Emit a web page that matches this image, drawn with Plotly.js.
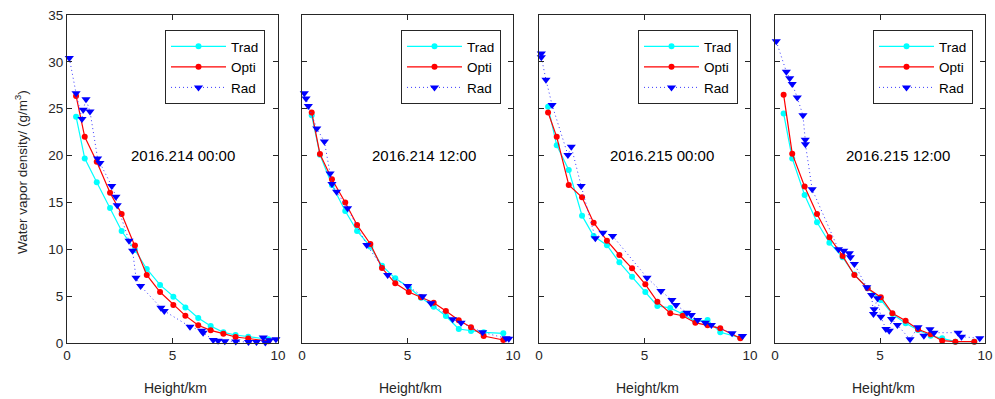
<!DOCTYPE html>
<html>
<head>
<meta charset="utf-8">
<script src="https://cdn.plot.ly/plotly-3.0.1.min.js"></script>
<style>html,body{margin:0;padding:0;background:#fff}#chart{width:995px;height:399px}</style>
</head>
<body>
<div id="chart"></div>
<script>
// ---- data (height in km, water vapor density in g/m^3) ----
var panelTitles = ["2016.214 00:00", "2016.214 12:00", "2016.215 00:00", "2016.215 12:00"];
var seriesNames = ["Trad", "Opti", "Rad"];
var xTickVals = [0, 5, 10];
var yTickVals = [0, 5, 10, 15, 20, 25, 30, 35];

// Panel 1
var h1 = [0.43,0.84,1.41,2.04,2.59,3.22,3.78,4.41,5.04,5.61,6.22,6.81,7.41,7.99,8.59,9.54];
var trad1 = [24.15,19.7,17.15,14.4,11.95,9.93,7.9,6.2,4.94,3.8,2.67,1.81,1.14,0.85,0.68,0.4];
var opti1 = [26.36,22.0,19.35,16.04,13.77,10.4,7.26,5.44,4.06,2.92,1.89,1.35,1.0,0.64,0.48,0.2];
var radH1 = [0.11,0.43,0.71,0.77,0.9,1.09,1.45,1.56,2.12,2.32,2.38,2.94,3.11,3.27,3.49,4.45,4.61,5.83,6.38,6.45,6.93,7.16,7.48,8.0,8.6,8.98,9.3,9.4,9.6,9.9];
var rad1 = [30.4,26.65,23.9,24.9,26.0,24.7,19.7,19.2,16.75,15.6,14.7,10.9,9.85,6.97,6.08,3.77,3.42,1.74,1.31,1.1,0.32,0.25,0.2,0.15,0.1,0.1,0.6,0.05,0.3,0.4];

// Panel 2
var h2 = [0.46,0.85,1.42,2.05,2.61,3.24,3.79,4.42,5.06,5.64,6.24,6.82,7.43,8.01,8.61,9.54];
var trad2 = [24.3,20.1,16.86,14.09,11.95,10.28,8.25,6.9,5.94,4.84,3.88,2.88,1.49,1.28,1.14,1.03];
var opti2 = [24.6,20.17,17.47,15.0,12.6,10.57,8.0,6.37,5.44,4.87,4.3,3.41,2.42,1.68,0.75,0.32];
var radH2 = [0.11,0.19,0.3,0.7,1.06,1.33,1.42,1.64,2.16,3.07,4.06,5.01,5.72,6.11,7.14,7.54,8.56,9.67,9.8];
var rad2 = [26.65,26.1,25.3,22.9,21.5,18.1,16.97,16.15,14.37,10.46,7.26,6.08,5.0,4.23,2.53,2.17,1.14,0.5,0.45];

// Panel 3
var h3 = [0.43,0.84,1.41,2.04,2.59,3.22,3.81,4.41,5.04,5.61,6.22,6.81,7.41,7.99,8.59,9.54];
var trad3 = [25.2,21.1,18.46,13.59,11.42,10.43,8.61,7.08,5.44,3.95,3.74,3.09,2.28,2.45,1.14,0.57];
var opti3 = [24.6,22.0,16.86,15.55,12.84,10.92,9.39,7.97,6.26,4.41,3.17,2.91,2.17,1.89,1.57,0.5];
var radH3 = [0.11,0.11,0.33,0.62,1.37,1.53,2.0,2.67,3.03,3.49,5.12,5.78,6.3,6.49,7.01,7.22,7.52,7.88,8.17,9.15,9.65];
var rad3 = [30.9,30.5,28.1,25.4,20.06,20.95,16.75,11.17,11.77,11.42,6.97,5.55,4.59,4.06,3.24,2.99,2.45,2.17,1.92,1.03,0.75];

// Panel 4
var h4 = [0.41,0.82,1.41,2.0,2.59,3.22,3.78,4.41,5.04,5.59,6.22,6.81,7.41,7.96,8.59,9.49];
var trad4 = [24.5,19.7,15.8,12.88,10.7,9.15,7.3,5.84,4.59,3.1,2.1,1.39,0.78,0.5,0.14,0.14];
var opti4 = [26.5,20.2,16.7,13.77,11.28,9.29,7.26,5.84,4.88,3.17,2.38,1.46,0.93,0.25,0.14,0.14];
var radH4 = [0.06,0.54,0.7,0.82,1.06,1.33,1.44,1.45,1.77,3.02,3.27,3.54,3.59,3.78,4.37,4.6,4.69,4.72,4.88,5.04,5.28,5.44,5.55,5.83,6.43,6.81,7.09,7.38,7.57,8.72,8.88,9.75];
var rad4 = [32.2,28.95,28.25,27.64,26.2,24.3,21.7,21.2,16.4,10.0,9.85,9.57,9.15,8.43,5.94,5.12,3.09,3.6,4.77,2.81,1.49,1.31,2.56,1.92,0.39,1.68,0.78,1.46,1.1,1.1,0.68,0.5];

var panels = [
  {h: h1, trad: trad1, opti: opti1, radH: radH1, rad: rad1},
  {h: h2, trad: trad2, opti: opti2, radH: radH2, rad: rad2},
  {h: h3, trad: trad3, opti: opti3, radH: radH3, rad: rad3},
  {h: h4, trad: trad4, opti: opti4, radH: radH4, rad: rad4}
];

// ---- layout geometry (pixels) ----
var W = 995, H = 399;
var px = [[67,278],[302,513],[539,750],[775,985]];
var plotTop = 15, plotBottom = 343;
var legendLeft = [165, 401, 638, 873];
var legendTop = 30;
var textCenterX = [183, 424, 662, 898];
var textY = 155;
var axisColor = '#262626';
var FONT = 'Arial, "Liberation Sans", sans-serif';

var data = [];
var layout = {
  width: W, height: H,
  margin: {l: 0, r: 0, t: 0, b: 0},
  paper_bgcolor: '#ffffff', plot_bgcolor: '#ffffff',
  font: {family: FONT, size: 13.5, color: axisColor},
  showlegend: true,
  annotations: []
};

panels.forEach(function (p, i) {
  var n = i + 1;
  var xa = 'x' + (n === 1 ? '' : n);
  var ya = 'y' + (n === 1 ? '' : n);
  var lg = 'legend' + (n === 1 ? '' : n);
  data.push({
    x: p.h, y: p.trad, xaxis: xa, yaxis: ya, legend: lg, name: seriesNames[0],
    type: 'scatter', mode: 'lines+markers', cliponaxis: false,
    line: {color: '#00FFFF', width: 1.2},
    marker: {color: '#00FFFF', size: 6, symbol: 'circle'}
  });
  data.push({
    x: p.h, y: p.opti, xaxis: xa, yaxis: ya, legend: lg, name: seriesNames[1],
    type: 'scatter', mode: 'lines+markers', cliponaxis: false,
    line: {color: '#FF0000', width: 1.2},
    marker: {color: '#FF0000', size: 6, symbol: 'circle'}
  });
  data.push({
    x: p.radH, y: p.rad, xaxis: xa, yaxis: ya, legend: lg, name: seriesNames[2],
    type: 'scatter', mode: 'lines+markers', cliponaxis: false,
    line: {color: '#3a3aff', width: 1, dash: '1px,3px'},
    marker: {color: '#0000FF', size: 8, symbol: 'triangle-down'}
  });

  var xKey = 'xaxis' + (n === 1 ? '' : n);
  var yKey = 'yaxis' + (n === 1 ? '' : n);
  layout[xKey] = {
    domain: [px[i][0] / W, px[i][1] / W],
    anchor: ya, range: [0, 10], tickvals: xTickVals,
    ticks: 'inside', ticklen: 5, tickcolor: axisColor, tickwidth: 1,
    showline: true, linecolor: axisColor, linewidth: 1, mirror: 'ticks',
    showgrid: false, zeroline: false, fixedrange: true,
    tickfont: {size: 13.5, color: axisColor}
  };
  layout[yKey] = {
    domain: [1 - plotBottom / H, 1 - plotTop / H],
    anchor: xa, range: [0, 35], tickvals: yTickVals,
    ticks: 'inside', ticklen: 5, tickcolor: axisColor, tickwidth: 1,
    showline: true, linecolor: axisColor, linewidth: 1, mirror: 'ticks',
    showgrid: false, zeroline: false, fixedrange: true,
    showticklabels: n === 1,
    tickfont: {size: 13.5, color: axisColor}
  };
  layout[lg] = {
    x: legendLeft[i] / W, y: 1 - legendTop / H, xanchor: 'left', yanchor: 'top',
    xref: 'paper', yref: 'paper',
    bgcolor: '#ffffff', bordercolor: axisColor, borderwidth: 1,
    font: {size: 13.5, color: '#000000'},
    itemwidth: 55, tracegroupgap: 0
  };
  layout.annotations.push({
    xref: 'paper', yref: 'paper', x: textCenterX[i] / W, y: 1 - textY / H,
    text: panelTitles[i], showarrow: false, xanchor: 'center', yanchor: 'middle',
    font: {size: 15, color: '#000000'}
  });
  layout.annotations.push({
    xref: 'paper', yref: 'paper', x: ((px[i][0] + px[i][1]) / 2 + 3) / W, y: 1 - 388 / H,
    text: 'Height/km', showarrow: false, xanchor: 'center', yanchor: 'middle',
    font: {size: 14, color: axisColor}
  });
});

layout.annotations.push({
  xref: 'paper', yref: 'paper', x: 21 / W, y: 1 - 172 / H,
  text: 'Water vapor density/ (g/m<sup>3</sup>)', showarrow: false, textangle: -90,
  xanchor: 'center', yanchor: 'middle',
  font: {size: 13.5, color: axisColor}
});

Plotly.newPlot('chart', data, layout, {staticPlot: true, displayModeBar: false});
</script>
</body>
</html>
